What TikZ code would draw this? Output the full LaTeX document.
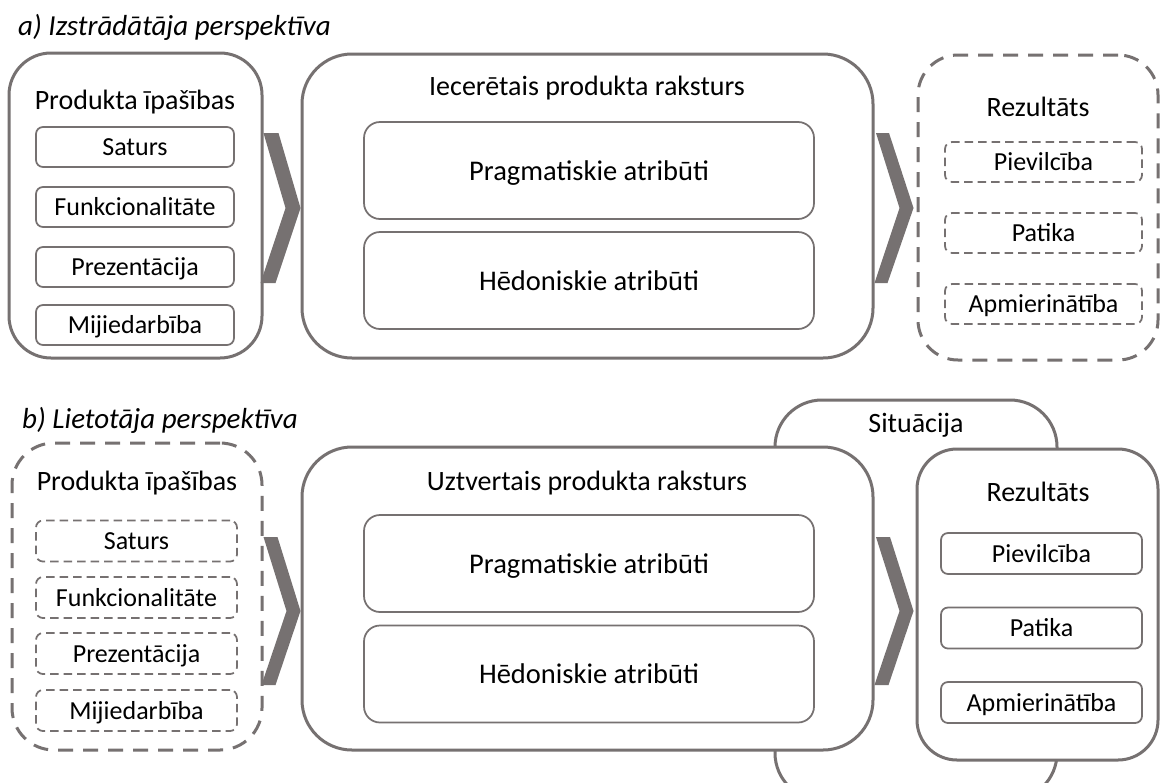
\documentclass[tikz,border=0pt]{standalone}
\usepackage{fontspec}
\setmainfont{Carlito}
\usetikzlibrary{calc}
\definecolor{gr}{RGB}{118,113,113}
\newcommand\myfs[1]{\fontsize{#1}{#1}\selectfont}
\tikzset{
  outer/.style={draw=gr, line width=3pt, fill=white, rectangle, inner sep=0pt},
  dashouter/.style={outer, dash pattern=on 15pt off 10pt},
  inbox/.style={draw=gr, line width=1.75pt, fill=white, rectangle, inner sep=0pt,
     rounded corners=7pt, font=\myfs{26}, text height=17pt, text depth=0pt},
  dashinbox/.style={inbox, dash pattern=on 8.5pt off 5pt},
  bigbox/.style={inbox, rounded corners=16pt, minimum width=450pt, minimum height=97pt,
     font=\myfs{28.5}, text height=19pt, text depth=0pt},
  smallL/.style={minimum width=198pt, minimum height=40pt},
  title/.style={anchor=base, font=\myfs{28}, inner sep=0pt},
  sect/.style={anchor=base west, font=\myfs{29}\itshape, inner sep=0pt},
  chev/.style={fill=gr, draw=none}
}
\begin{document}
\begin{tikzpicture}[x=1pt,y=-1pt]
\useasboundingbox (0,0) rectangle (1161,782);
\clip (0,0) rectangle (1161,782);
\fill[white] (0,0) rectangle (1161,782);

% ---------------- panel a ----------------
\node[sect] (TA) at (18,35) {a) Izstrādātāja perspektīva};

\node[outer, rounded corners=42pt, minimum width=253pt, minimum height=305pt] (LA) at (135.5,205.5) {};
\node[title] (LAt) at (135,109) {Produkta īpašības};
\node[inbox, smallL] (A1) at (135,147) {Saturs};
\node[inbox, smallL] (A2) at (135,207) {Funkcionalitāte};
\node[inbox, smallL] (A3) at (135,267) {Prezentācija};
\node[inbox, smallL] (A4) at (135,325) {Mijiedarbība};

\node[outer, rounded corners=50pt, minimum width=571pt, minimum height=304pt] (MA) at (587.5,206) {};
\node[title] (MAt) at (587,95) {Iecerētais produkta raksturs};
\node[bigbox] (MA1) at (589,170.5) {Pragmatiskie atribūti};
\node[bigbox] (MA2) at (589,280.5) {Hēdoniskie atribūti};

\node[dashouter, rounded corners=40pt, minimum width=240pt, minimum height=305pt] (RA) at (1038,207.5) {};
\node[title] (RAt) at (1038,116) {Rezultāts};
\node[dashinbox, minimum width=197pt, minimum height=40pt] (R1) at (1043.5,162) {Pievilcība};
\node[dashinbox, minimum width=197pt, minimum height=40pt] (R2) at (1043.5,233) {Patika};
\node[dashinbox, minimum width=197pt, minimum height=40pt] (R3) at (1043.5,304) {Apmierinātība};

\fill[chev] ($(LA.east |- 0,133)$) -- ++(15,0) -- ($(MA.west |- 0,208)$) -- ++(-25,75) -- ++(-15,0) -- ++(25,-75) -- cycle;
\fill[chev] ($(MA.east |- 0,133)$) ++(1.5,0) -- ++(13,0) -- ($(RA.west |- 0,208)+(-3,0)$) -- ++(-26,75) -- ++(-13,0) -- ++(25,-75) -- cycle;

% ---------------- panel b ----------------
\node[sect] (TB) at (22,428) {b) Lietotāja perspektīva};

\node[outer, rounded corners=47pt, minimum width=282pt, minimum height=400pt] (S) at (916,600) {};
\node[title] (St) at (916,432) {Situācija};

\node[dashouter, rounded corners=42pt, minimum width=250pt, minimum height=307pt] (LB) at (137,596.5) {};
\node[title] (LBt) at (137,490) {Produkta īpašības};
\node[dashinbox, minimum width=201pt, minimum height=41pt] (B1) at (136.5,541) {Saturs};
\node[dashinbox, minimum width=201pt, minimum height=41pt] (B2) at (136.5,597.5) {Funkcionalitāte};
\node[dashinbox, minimum width=201pt, minimum height=41pt] (B3) at (136.5,653.5) {Prezentācija};
\node[dashinbox, minimum width=201pt, minimum height=41pt] (B4) at (136.5,710.5) {Mijiedarbība};

\node[outer, rounded corners=50pt, minimum width=571pt, minimum height=303pt] (MB) at (587.5,598.5) {};
\node[title] (MBt) at (587,490) {Uztvertais produkta raksturs};
\node[bigbox] (MB1) at (589,563.5) {Pragmatiskie atribūti};
\node[bigbox] (MB2) at (589,674) {Hēdoniskie atribūti};

\node[outer, rounded corners=40pt, minimum width=241pt, minimum height=311pt] (RB) at (1037.5,604.5) {};
\node[title] (RBt) at (1038,501) {Rezultāts};
\node[inbox, minimum width=201pt, minimum height=41pt] (Q1) at (1041.5,553.5) {Pievilcība};
\node[inbox, minimum width=201pt, minimum height=41pt] (Q2) at (1041.5,628) {Patika};
\node[inbox, minimum width=201pt, minimum height=41pt] (Q3) at (1041.5,702.5) {Apmierinātība};

\fill[chev] ($(LB.east |- 0,537)$) -- ++(14,0) -- ($(MB.west |- 0,611)$) -- ++(-25,74) -- ++(-14,0) -- ++(25,-74) -- cycle;
\fill[chev] ($(MB.east |- 0,537)$) ++(1.5,0) -- ++(14,0) -- ($(RB.west |- 0,611)+(-2,0)$) -- ++(-25,74) -- ++(-14,0) -- ++(25,-74) -- cycle;
\end{tikzpicture}
\end{document}
